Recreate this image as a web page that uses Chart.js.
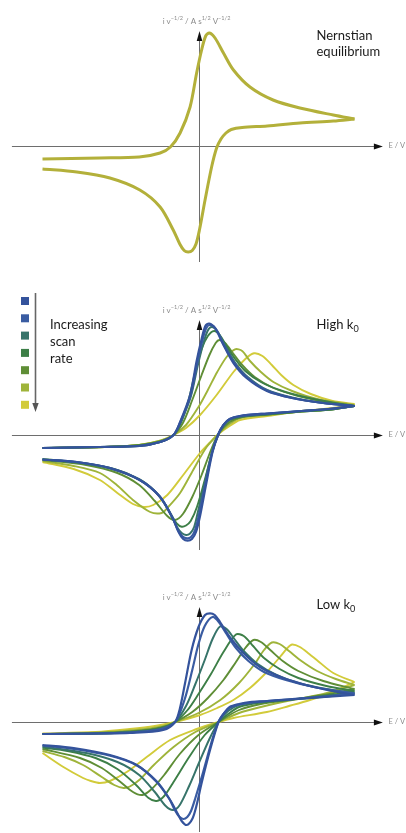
<!DOCTYPE html>
<html>
<head>
<meta charset="utf-8">
<script src="https://cdn.jsdelivr.net/npm/chart.js@4.4.1/dist/chart.umd.min.js"></script>
<style>
  body { margin: 0; background: #fff; width: 406px; height: 833px; position: relative; overflow: hidden; }
  canvas { position: absolute; left: 0; }
</style>
</head>
<body>
<canvas id="nernst" width="406" height="280" style="top:0px"></canvas>
<canvas id="highK" width="406" height="290" style="top:280px"></canvas>
<canvas id="lowK" width="406" height="263" style="top:570px"></canvas>
<script>
// cyclic voltammograms, [E / V, i v^-1/2] pairs, forward scan then reverse scan

const nernstCurve = [
  [-0.5,-0.13],[-0.316,-0.12],[-0.19,-0.11],[-0.123,-0.07],[-0.09,-0.01],[-0.059,0.13],[-0.027,0.39],
  [-0.006,0.73],[0.01,0.96],[0.023,1.1],[0.035,1.13],[0.053,1.08],[0.08,0.93],[0.112,0.76],[0.165,0.59],
  [0.239,0.46],[0.325,0.38],[0.432,0.31],[0.5,0.27],
  [0.432,0.25],[0.325,0.23],[0.22,0.2],[0.14,0.185],[0.105,0.165],[0.088,0.13],[0.072,0.07],[0.058,-0.02],
  [0.042,-0.21],[0.021,-0.54],[0.003,-0.84],[-0.008,-0.98],[-0.02,-1.045],[-0.033,-1.06],[-0.046,-1.045],
  [-0.06,-0.98],[-0.081,-0.84],[-0.123,-0.61],[-0.188,-0.44],[-0.284,-0.32],[-0.39,-0.26],[-0.5,-0.23]
];

// high k0, slowest scan rate first
const high1 = [
  [-0.5,-0.13],[-0.316,-0.12],[-0.19,-0.11],[-0.123,-0.07],[-0.08,0],[-0.059,0.13],[-0.027,0.4],[-0.006,0.74],
  [0.01,0.96],[0.022,1.09],[0.034,1.115],[0.053,1.07],[0.08,0.9],[0.112,0.72],[0.154,0.57],[0.219,0.44],
  [0.3,0.37],[0.4,0.32],[0.5,0.29],
  [0.43,0.265],[0.33,0.24],[0.22,0.215],[0.133,0.19],[0.1,0.16],[0.08,0.1],[0.064,0.01],[0.045,-0.17],
  [0.024,-0.5],[0.005,-0.81],[-0.008,-0.97],[-0.021,-1.04],[-0.035,-1.057],[-0.049,-1.04],[-0.064,-0.97],
  [-0.081,-0.84],[-0.123,-0.62],[-0.188,-0.45],[-0.284,-0.33],[-0.39,-0.27],[-0.5,-0.245]
];
const high2 = [
  [-0.5,-0.13],[-0.316,-0.12],[-0.19,-0.11],[-0.123,-0.07],[-0.08,0],[-0.058,0.13],[-0.026,0.39],[-0.004,0.72],
  [0.012,0.94],[0.025,1.07],[0.037,1.1],[0.056,1.06],[0.083,0.89],[0.115,0.72],[0.156,0.575],[0.22,0.445],
  [0.3,0.37],[0.4,0.32],[0.5,0.29],
  [0.43,0.265],[0.33,0.24],[0.22,0.215],[0.133,0.19],[0.1,0.16],[0.08,0.1],[0.064,0.01],[0.044,-0.17],
  [0.022,-0.49],[0.002,-0.79],[-0.011,-0.95],[-0.024,-1.02],[-0.037,-1.033],[-0.051,-1.015],[-0.066,-0.95],
  [-0.083,-0.83],[-0.124,-0.615],[-0.188,-0.45],[-0.284,-0.33],[-0.39,-0.27],[-0.5,-0.245]
];
const high3 = [
  [-0.5,-0.13],[-0.316,-0.12],[-0.19,-0.11],[-0.123,-0.07],[-0.08,0],[-0.057,0.13],[-0.025,0.38],[-0.002,0.7],
  [0.015,0.91],[0.029,1.04],[0.042,1.08],[0.06,1.04],[0.086,0.89],[0.118,0.72],[0.158,0.58],[0.22,0.45],
  [0.3,0.375],[0.4,0.32],[0.5,0.29],
  [0.43,0.26],[0.33,0.24],[0.22,0.21],[0.133,0.185],[0.1,0.155],[0.08,0.1],[0.064,0.01],[0.043,-0.17],
  [0.02,-0.48],[-0.002,-0.77],[-0.014,-0.92],[-0.027,-0.985],[-0.04,-1],[-0.054,-0.98],[-0.069,-0.92],
  [-0.087,-0.81],[-0.126,-0.61],[-0.19,-0.45],[-0.284,-0.335],[-0.39,-0.275],[-0.5,-0.245]
];
const high4 = [
  [-0.5,-0.13],[-0.3,-0.12],[-0.19,-0.105],[-0.12,-0.065],[-0.08,0],[-0.055,0.13],[-0.03,0.37],[-0.01,0.64],
  [0.01,0.86],[0.03,0.99],[0.05,1.04],[0.068,1],[0.09,0.89],[0.115,0.77],[0.15,0.64],[0.2,0.53],
  [0.26,0.45],[0.34,0.38],[0.42,0.33],[0.5,0.29],
  [0.43,0.255],[0.33,0.235],[0.22,0.205],[0.14,0.185],[0.1,0.15],[0.08,0.09],[0.064,0.01],[0.045,-0.16],
  [0.02,-0.45],[-0.005,-0.72],[-0.025,-0.86],[-0.04,-0.905],[-0.054,-0.917],[-0.068,-0.89],[-0.085,-0.81],
  [-0.105,-0.7],[-0.14,-0.56],[-0.19,-0.44],[-0.27,-0.34],[-0.37,-0.28],[-0.5,-0.24]
];
const high5 = [
  [-0.5,-0.13],[-0.3,-0.12],[-0.19,-0.1],[-0.12,-0.06],[-0.08,0],[-0.05,0.12],[-0.02,0.35],[0.01,0.6],
  [0.035,0.8],[0.055,0.92],[0.067,0.95],[0.085,0.92],[0.11,0.82],[0.14,0.7],[0.18,0.58],[0.24,0.47],
  [0.32,0.39],[0.41,0.33],[0.5,0.29],
  [0.43,0.255],[0.33,0.235],[0.22,0.205],[0.14,0.18],[0.1,0.13],[0.064,0.01],[0.04,-0.15],[0.01,-0.4],
  [-0.02,-0.62],[-0.05,-0.79],[-0.075,-0.85],[-0.1,-0.81],[-0.14,-0.66],[-0.19,-0.5],[-0.26,-0.38],
  [-0.36,-0.3],[-0.5,-0.25]
];
const high6 = [
  [-0.5,-0.13],[-0.3,-0.12],[-0.19,-0.1],[-0.12,-0.055],[-0.08,0],[-0.04,0.1],[0,0.28],[0.03,0.45],
  [0.06,0.63],[0.09,0.78],[0.117,0.857],[0.14,0.84],[0.165,0.74],[0.2,0.63],[0.24,0.53],[0.3,0.44],
  [0.38,0.36],[0.5,0.3],
  [0.43,0.26],[0.33,0.235],[0.22,0.2],[0.133,0.17],[0.095,0.1],[0.064,0.01],[0.026,-0.12],[-0.017,-0.35],
  [-0.059,-0.58],[-0.1,-0.73],[-0.118,-0.78],[-0.155,-0.77],[-0.21,-0.65],[-0.262,-0.5],[-0.316,-0.38],
  [-0.4,-0.31],[-0.5,-0.26]
];
const high7 = [
  [-0.5,-0.13],[-0.3,-0.12],[-0.19,-0.1],[-0.12,-0.055],[-0.08,0],[-0.04,0.07],[0.005,0.2],[0.058,0.4],
  [0.112,0.63],[0.15,0.76],[0.178,0.817],[0.205,0.79],[0.235,0.7],[0.265,0.6],[0.304,0.5],[0.36,0.41],
  [0.43,0.34],[0.5,0.31],
  [0.43,0.27],[0.33,0.24],[0.22,0.19],[0.133,0.15],[0.095,0.08],[0.064,0.01],[0.035,-0.08],[0.005,-0.18],
  [-0.049,-0.4],[-0.1,-0.6],[-0.145,-0.7],[-0.175,-0.72],[-0.21,-0.69],[-0.26,-0.58],[-0.316,-0.45],
  [-0.4,-0.34],[-0.5,-0.27]
];

// low k0, slowest scan rate first
const low1 = [
  [-0.5,-0.12],[-0.32,-0.115],[-0.22,-0.11],[-0.113,-0.08],[-0.075,0],[-0.06,0.13],[-0.043,0.39],[-0.022,0.72],
  [0,0.95],[0.021,1.07],[0.037,1.087],[0.052,1.07],[0.069,1],[0.1,0.85],[0.144,0.69],[0.197,0.55],
  [0.272,0.44],[0.357,0.36],[0.43,0.31],[0.5,0.27],
  [0.43,0.255],[0.357,0.24],[0.22,0.21],[0.165,0.2],[0.13,0.18],[0.1,0.15],[0.08,0.08],[0.064,0],
  [0.037,-0.28],[0.01,-0.61],[-0.006,-0.83],[-0.02,-0.97],[-0.038,-1.03],[-0.054,-0.99],[-0.068,-0.91],
  [-0.091,-0.78],[-0.134,-0.6],[-0.198,-0.43],[-0.284,-0.33],[-0.4,-0.26],[-0.5,-0.23]
];
const low2 = [
  [-0.5,-0.12],[-0.32,-0.115],[-0.2,-0.1],[-0.12,-0.07],[-0.075,0],[-0.045,0.22],[-0.02,0.52],[0,0.78],
  [0.02,0.96],[0.045,1.05],[0.065,1],[0.09,0.88],[0.12,0.74],[0.16,0.61],[0.21,0.5],[0.28,0.42],
  [0.37,0.35],[0.5,0.285],
  [0.4,0.255],[0.3,0.23],[0.2,0.205],[0.13,0.175],[0.095,0.13],[0.064,0],[0.04,-0.22],[0.015,-0.5],
  [-0.01,-0.76],[-0.024,-0.89],[-0.036,-0.95],[-0.049,-0.97],[-0.062,-0.945],[-0.076,-0.88],[-0.095,-0.76],
  [-0.135,-0.59],[-0.2,-0.43],[-0.28,-0.34],[-0.4,-0.27],[-0.5,-0.235]
];
const low3 = [
  [-0.5,-0.12],[-0.32,-0.115],[-0.2,-0.1],[-0.12,-0.07],[-0.075,0],[-0.04,0.16],[-0.01,0.38],[0.02,0.62],
  [0.045,0.83],[0.069,0.955],[0.09,0.93],[0.115,0.83],[0.145,0.71],[0.19,0.58],[0.25,0.47],[0.32,0.39],
  [0.41,0.33],[0.5,0.29],
  [0.4,0.25],[0.3,0.225],[0.2,0.2],[0.13,0.17],[0.095,0.11],[0.064,0],[0.035,-0.17],[0,-0.42],
  [-0.03,-0.64],[-0.06,-0.83],[-0.081,-0.88],[-0.105,-0.84],[-0.14,-0.7],[-0.19,-0.53],[-0.26,-0.4],
  [-0.36,-0.31],[-0.5,-0.245]
];
const low4 = [
  [-0.5,-0.12],[-0.32,-0.115],[-0.2,-0.095],[-0.12,-0.06],[-0.075,0],[-0.035,0.12],[0,0.28],[0.04,0.48],
  [0.08,0.7],[0.12,0.875],[0.145,0.86],[0.175,0.76],[0.21,0.64],[0.26,0.53],[0.32,0.44],[0.41,0.36],
  [0.5,0.31],
  [0.4,0.26],[0.3,0.225],[0.2,0.195],[0.13,0.15],[0.095,0.08],[0.064,0],[0.02,-0.13],[-0.03,-0.35],
  [-0.08,-0.6],[-0.11,-0.74],[-0.134,-0.79],[-0.16,-0.76],[-0.2,-0.63],[-0.26,-0.47],[-0.33,-0.36],
  [-0.42,-0.29],[-0.5,-0.255]
];
const low5 = [
  [-0.5,-0.12],[-0.32,-0.11],[-0.2,-0.09],[-0.12,-0.055],[-0.075,0],[-0.02,0.1],[0.03,0.24],[0.08,0.42],
  [0.12,0.6],[0.15,0.74],[0.176,0.82],[0.2,0.8],[0.23,0.72],[0.27,0.61],[0.32,0.51],[0.4,0.41],
  [0.5,0.33],
  [0.4,0.27],[0.3,0.225],[0.2,0.18],[0.13,0.12],[0.064,0],[0,-0.13],[-0.06,-0.32],[-0.11,-0.53],
  [-0.15,-0.67],[-0.18,-0.73],[-0.21,-0.7],[-0.25,-0.6],[-0.31,-0.46],[-0.38,-0.36],[-0.5,-0.27]
];
const low6 = [
  [-0.5,-0.12],[-0.32,-0.105],[-0.2,-0.08],[-0.12,-0.045],[-0.075,0],[0,0.09],[0.07,0.22],[0.13,0.39],
  [0.18,0.58],[0.21,0.72],[0.235,0.795],[0.26,0.78],[0.29,0.71],[0.33,0.61],[0.38,0.51],[0.44,0.43],
  [0.5,0.37],
  [0.4,0.28],[0.3,0.22],[0.2,0.15],[0.13,0.09],[0.064,0],[-0.01,-0.1],[-0.08,-0.25],[-0.14,-0.42],
  [-0.19,-0.58],[-0.22,-0.645],[-0.24,-0.66],[-0.27,-0.63],[-0.31,-0.55],[-0.37,-0.43],[-0.43,-0.35],
  [-0.5,-0.29]
];
const low7 = [
  [-0.5,-0.115],[-0.33,-0.1],[-0.22,-0.07],[-0.14,-0.04],[-0.075,0],[0.005,0.07],[0.06,0.14],[0.112,0.22],
  [0.165,0.34],[0.219,0.5],[0.261,0.65],[0.285,0.74],[0.3,0.775],[0.325,0.75],[0.355,0.68],[0.379,0.62],
  [0.432,0.49],[0.5,0.4],
  [0.43,0.3],[0.357,0.22],[0.29,0.16],[0.219,0.1],[0.112,0.04],[0.064,0],[-0.006,-0.07],[-0.091,-0.18],
  [-0.166,-0.35],[-0.23,-0.5],[-0.284,-0.59],[-0.316,-0.61],[-0.345,-0.59],[-0.37,-0.56],[-0.433,-0.45],
  [-0.5,-0.31]
];

const rateColors = ['#34539c', '#3a5ca2', '#37746a', '#3d7f47', '#5f8e36', '#9fb43a', '#d2cb3a'];
const rateWidths = [2.2, 2.2, 2, 1.9, 1.9, 1.9, 1.9];

// one sweep direction per dataset so the switching point stays sharp
function splitAtVertex(curve) {
  let k = 0;
  curve.forEach((p, j) => { if (p[0] > curve[k][0]) k = j; });
  const toXY = p => ({ x: p[0], y: p[1] });
  return [curve.slice(0, k + 1).map(toXY), curve.slice(k).map(toXY)];
}

function curveDatasets(curves, colors, widths) {
  const out = [];
  curves.forEach((c, n) => {
    splitAtVertex(c).forEach(seg => out.push({
      data: seg,
      borderColor: colors[n],
      borderWidth: widths[n],
      pointRadius: 0,
      tension: 0.3,
      fill: false
    }));
  });
  return out;
}

// text with super/subscripts: parts = [[text, 'sup'|'sub'|undefined], ...]
function drawRich(ctx, parts, x, y, size, color, align) {
  const fontFor = k => (k ? size * 0.7 : size) + 'px Lato, sans-serif';
  let w = 0;
  parts.forEach(([t, k]) => { ctx.font = fontFor(k); w += ctx.measureText(t).width; });
  let xx = align === 'center' ? x - w / 2 : x;
  ctx.fillStyle = color;
  ctx.textAlign = 'left';
  ctx.textBaseline = 'middle';
  parts.forEach(([t, k]) => {
    ctx.font = fontFor(k);
    const dy = k === 'sup' ? -size * 0.35 : k === 'sub' ? size * 0.3 : 0;
    ctx.fillText(t, xx, y + dy);
    xx += ctx.measureText(t).width;
  });
}

const yLabel = [['i v'], ['\u22121/2', 'sup'], [' / A s'], ['1/2', 'sup'], [' V'], ['\u22121/2', 'sup']];

const cvAxes = {
  id: 'cvAxes',
  beforeDatasetsDraw(chart, args, opts) {
    const { ctx, scales: { x, y } } = chart;
    const ox = Math.round(x.getPixelForValue(0)) + 0.5;
    const oy = Math.round(y.getPixelForValue(0)) + 0.5;
    const left = x.getPixelForValue(-0.598);
    const tipX = x.getPixelForValue(0.591);
    const tipY = y.getPixelForValue(1.15);
    const bottom = y.getPixelForValue(opts.iBottom);
    ctx.save();
    ctx.strokeStyle = '#6e6e6e';
    ctx.lineWidth = 1;
    ctx.beginPath();
    ctx.moveTo(left, oy);
    ctx.lineTo(tipX - 5, oy);
    ctx.moveTo(ox, bottom);
    ctx.lineTo(ox, tipY + 5);
    ctx.stroke();
    ctx.fillStyle = '#111';
    ctx.beginPath();
    ctx.moveTo(tipX, oy);
    ctx.lineTo(tipX - 9, oy - 3);
    ctx.lineTo(tipX - 9, oy + 3);
    ctx.closePath();
    ctx.fill();
    ctx.beginPath();
    ctx.moveTo(ox, tipY);
    ctx.lineTo(ox - 2.8, tipY + 10);
    ctx.lineTo(ox + 2.8, tipY + 10);
    ctx.closePath();
    ctx.fill();
    ctx.restore();
  },
  afterDraw(chart, args, opts) {
    const { ctx, scales: { x, y } } = chart;
    const ox = x.getPixelForValue(0);
    const oy = y.getPixelForValue(0);
    ctx.save();
    drawRich(ctx, yLabel, ox - 2, oy - 125, 8, '#8c8c8c', 'center');
    drawRich(ctx, [['E / V']], ox + 190, oy, 7.5, '#8c8c8c', 'left');
    opts.title.forEach((line, j) => drawRich(ctx, line, 316.5, opts.titleY + j * 16.6, 13, '#1b1b1b', 'left'));
    if (opts.legend) {
      // scan-rate key: colour squares with a downward arrow
      const top = opts.legend.top;
      rateColors.forEach((c, j) => {
        ctx.fillStyle = c;
        ctx.fillRect(21, top + j * 17.3, 8, 8);
      });
      ctx.strokeStyle = '#666';
      ctx.lineWidth = 1.6;
      ctx.beginPath();
      ctx.moveTo(35.5, top - 4);
      ctx.lineTo(35.5, top + 108);
      ctx.stroke();
      ctx.fillStyle = '#555';
      ctx.beginPath();
      ctx.moveTo(35.5, top + 115);
      ctx.lineTo(32.3, top + 106);
      ctx.lineTo(38.7, top + 106);
      ctx.closePath();
      ctx.fill();
      ['Increasing', 'scan', 'rate'].forEach((t, j) =>
        drawRich(ctx, [[t]], 50, top + 28 + j * 17, 13, '#1b1b1b', 'left'));
    }
    ctx.restore();
  }
};

function makePanel(id, datasets, p) {
  return new Chart(document.getElementById(id), {
    type: 'scatter',
    data: { datasets },
    options: {
      responsive: false,
      animation: false,
      events: [],
      showLine: true,
      layout: { padding: { left: 11.3, right: 20.3, top: p.padTop, bottom: p.padBottom } },
      scales: {
        x: { type: 'linear', min: -0.6, max: 0.6, display: false },
        y: { type: 'linear', min: p.iMin, max: 1.2, display: false }
      },
      plugins: {
        legend: { display: false },
        tooltip: { enabled: false },
        cvAxes: { iBottom: p.iBottom, title: p.title, titleY: p.titleY, legend: p.legend }
      }
    },
    plugins: [cvAxes]
  });
}

makePanel('nernst', curveDatasets([nernstCurve], ['#b3b03a'], [3]), {
  padTop: 26, padBottom: 14, iMin: -1.2, iBottom: -1.16,
  title: [[['Nernstian']], [['equilibrium']]], titleY: 35.7
});

makePanel('highK', curveDatasets([high1, high2, high3, high4, high5, high6, high7], rateColors, rateWidths), {
  padTop: 35, padBottom: 15, iMin: -1.2, iBottom: -1.15,
  title: [[['High k'], ['0', 'sub']]], titleY: 45,
  legend: { top: 17 }
});

makePanel('lowK', curveDatasets([low1, low2, low3, low4, low5, low6, low7], rateColors, rateWidths), {
  padTop: 32, padBottom: 1, iMin: -1.1, iBottom: -1.1,
  title: [[['Low k'], ['0', 'sub']]], titleY: 35
});
</script>
</body>
</html>
